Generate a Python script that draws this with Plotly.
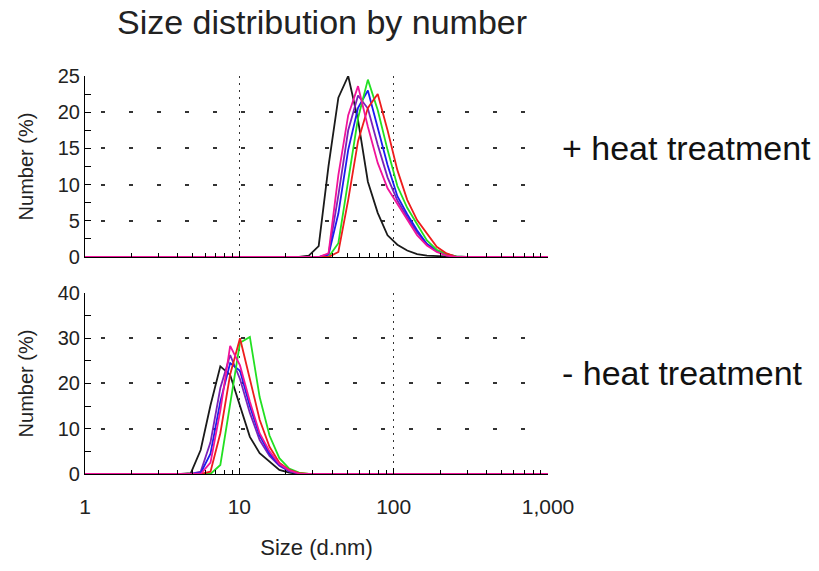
import plotly.graph_objects as go

# ---------------- data ----------------
TOP_SIZES = [24.36, 28.21, 32.67, 37.84, 43.82, 50.75, 58.77, 68.06, 78.82, 91.28,
             105.7, 122.4, 141.8, 164.2, 190.1, 220.2, 255.0, 295.3]
top_black   = [0, 0.2, 1.5, 12.6, 22.0, 25.0, 18.9, 10.4, 6.1, 3.0, 1.7, 0.9, 0.4, 0.2, 0.1, 0, 0, 0]
top_purple  = [0, 0, 0, 0.4, 8.5, 17.5, 22.3, 20.5, 15.5, 11.0, 7.8, 5.5, 3.4, 1.8, 0.9, 0.4, 0.1, 0]
top_blue    = [0, 0, 0, 0.3, 6.0, 14.8, 20.6, 23.0, 17.8, 12.7, 8.4, 5.9, 3.7, 1.8, 0.8, 0.3, 0, 0]
top_green   = [0, 0, 0, 0, 1.9, 10.6, 19.2, 24.5, 20.3, 14.8, 9.8, 6.8, 4.6, 2.3, 1.0, 0.4, 0.1, 0]
top_red     = [0, 0, 0, 0, 0.7, 7.9, 16.0, 20.6, 22.5, 17.5, 12.0, 7.9, 5.1, 3.3, 1.4, 0.5, 0, 0]
top_magenta = [0, 0, 0, 0.5, 11.3, 19.6, 23.6, 18.0, 13.0, 9.5, 7.3, 5.1, 3.0, 1.6, 0.7, 0.2, 0, 0]

BOT_SIZES = [4.187, 4.849, 5.615, 6.503, 7.531, 8.721, 10.10, 11.70, 13.54, 15.69,
             18.17, 21.04, 24.36, 28.21]
bot_black   = [0, 0.2, 5.3, 15.2, 23.8, 21.9, 15.2, 8.2, 4.6, 2.7, 0.9, 0.3, 0, 0]
bot_purple  = [0, 0, 0.5, 7.0, 19.0, 26.3, 21.0, 13.5, 7.5, 4.0, 1.8, 0.6, 0.1, 0]
bot_blue    = [0, 0, 0.2, 4.5, 16.0, 24.5, 22.8, 15.0, 8.5, 4.5, 2.0, 0.7, 0.1, 0]
bot_red     = [0, 0, 0, 0.5, 9.0, 22.0, 30.0, 21.0, 12.0, 6.0, 2.5, 0.9, 0.2, 0]
bot_green   = [0, 0, 0, 0, 2.0, 15.0, 29.0, 30.3, 17.0, 8.5, 3.5, 1.2, 0.3, 0]
bot_magenta = [0, 0, 0, 2.5, 14.0, 28.3, 24.0, 16.0, 9.0, 5.0, 2.2, 0.8, 0.1, 0]

X_START = 1
X_END = 1000
X_TICKS = [1, 10, 100, 1000]
X_TICKTEXT = ["1", "10", "100", "1,000"]
X_MINOR = [2, 3, 4, 5, 6, 7, 8, 9, 20, 30, 40, 50, 60, 70, 80, 90,
           200, 300, 400, 500, 600, 700, 800, 900]

TITLE = "Size distribution by number"
XTITLE = "Size (d.nm)"
YTITLE = "Number (%)"
LABEL_TOP = "+ heat treatment"
LABEL_BOT = "- heat treatment"

COLORS = {"black": "#1a1a1a", "purple": "#7b22b8", "blue": "#1c1cf0",
          "green": "#22e022", "red": "#ee1c1c", "magenta": "#f0149a"}

FONT = "Liberation Sans, Arial, sans-serif"

fig = go.Figure()

def add(sizes, vals, color, xa, ya):
    fig.add_trace(go.Scatter(
        x=[X_START] + sizes + [X_END], y=[0] + vals + [0],
        mode="lines", line=dict(color=color, width=1.8),
        xaxis=xa, yaxis=ya, showlegend=False, hoverinfo="skip"))

for name, vals in [("black", top_black), ("purple", top_purple), ("blue", top_blue),
                   ("green", top_green), ("red", top_red), ("magenta", top_magenta)]:
    add(TOP_SIZES, vals, COLORS[name], "x", "y")

for name, vals in [("black", bot_black), ("purple", bot_purple), ("blue", bot_blue),
                   ("green", bot_green), ("red", bot_red), ("magenta", bot_magenta)]:
    add(BOT_SIZES, vals, COLORS[name], "x2", "y2")

xcommon = dict(type="log", range=[0, 3], tickmode="array", tickvals=X_TICKS,
               ticktext=X_TICKTEXT, showline=True, linecolor="black", linewidth=1.2,
               ticks="inside", ticklen=6, tickcolor="black",
               showgrid=True, gridcolor="#333", griddash="2px,5px", gridwidth=1,
               minor=dict(tickmode="array", tickvals=X_MINOR, ticks="inside",
                          ticklen=4, tickcolor="black", showgrid=False),
               zeroline=False, tickfont=dict(family=FONT, size=21, color="#222"))

ycommon = dict(showline=True, linecolor="black", linewidth=1.2, ticks="inside",
               ticklen=6, tickcolor="black", showgrid=True, gridcolor="#333",
               gridwidth=1.5, griddash="0px,16px,4px,8px", zeroline=False,
               tickfont=dict(family=FONT, size=20, color="#222"),
               title=dict(text=YTITLE, font=dict(family=FONT, size=20, color="#222"),
                          standoff=18))

fig.update_layout(
    width=819, height=571,
    margin=dict(l=85, r=271, t=76, b=97),
    paper_bgcolor="white", plot_bgcolor="white",
    font=dict(family=FONT, color="#222"),
    title=dict(text=TITLE, x=322 / 819, xanchor="center", y=1 - 22 / 571,
               yanchor="middle", font=dict(family=FONT, size=34, color="#222")),
    xaxis=dict(**xcommon, domain=[0, 1], anchor="y", showticklabels=False),
    yaxis=dict(**ycommon, domain=[0.5452, 1], range=[0, 25], dtick=5, anchor="x",
               minor=dict(dtick=2.5, ticks="inside", ticklen=6, tickcolor="black")),
    xaxis2=dict(**xcommon, domain=[0, 1], anchor="y2", ticklabelstandoff=14,
                title=dict(text=XTITLE, font=dict(family=FONT, size=22, color="#222"),
                           standoff=22)),
    yaxis2=dict(**ycommon, domain=[0, 0.4548], range=[0, 40], dtick=10, anchor="x2",
                minor=dict(dtick=5, ticks="inside", ticklen=6, tickcolor="black")),
    annotations=[
        dict(text=LABEL_TOP, xref="paper", yref="paper", x=1.026, y=0.819,
             xanchor="left", yanchor="middle", showarrow=False,
             font=dict(family=FONT, size=34, color="#111")),
        dict(text=LABEL_BOT, xref="paper", yref="paper", x=1.026, y=0.254,
             xanchor="left", yanchor="middle", showarrow=False,
             font=dict(family=FONT, size=34, color="#111")),
    ],
)

fig.write_html("out.html")
